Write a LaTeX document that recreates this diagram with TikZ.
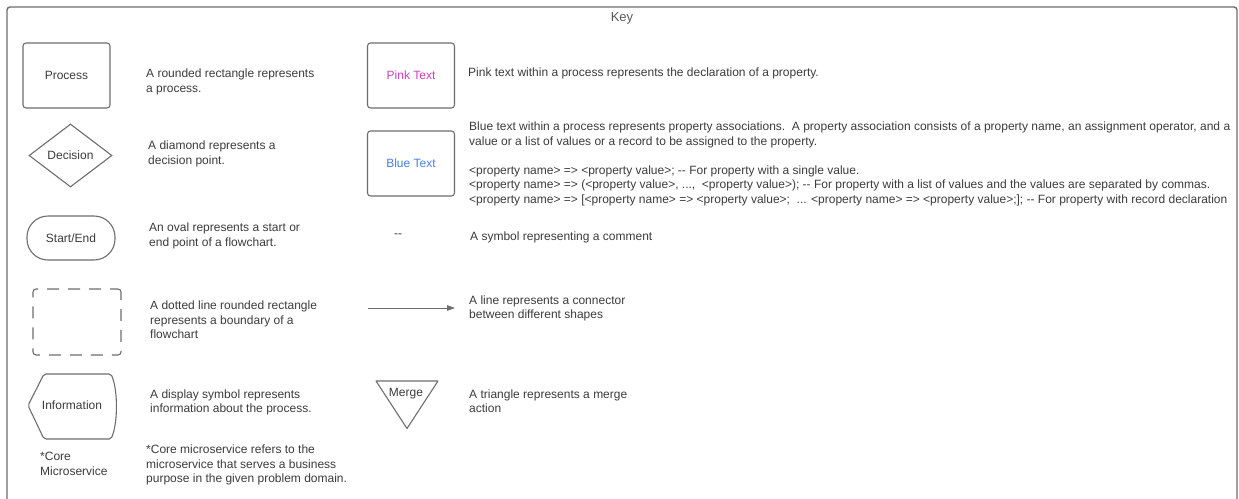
\documentclass[tikz,border=0pt]{standalone}
\usepackage{fontspec}
\setmainfont{Liberation Sans}
\usetikzlibrary{shapes.geometric,arrows.meta}
\definecolor{edge}{HTML}{6E6E6E}
\definecolor{ink}{HTML}{3C3C3C}
\definecolor{pinktxt}{HTML}{CF3FC4}
\definecolor{bluetxt}{HTML}{4C7FE3}
\newcommand{\dd}{{-}{-}}
\begin{document}
\begin{tikzpicture}[x=1pt,y=-1pt,
  every node/.style={font=\fontsize{12}{14.5}\selectfont, text=ink},
  shapebox/.style={draw=edge, line width=1.1pt},
  desc/.style={anchor=west, align=left, inner sep=0pt},
  label/.style={inner sep=0pt}]
\useasboundingbox (0,0) rectangle (1239,498);
\fill[white] (0,0) rectangle (1239,498);

% outer frame of the key
\draw[edge, line width=1.4pt, rounded corners=3pt]
  (7,510) -- (7,7) -- (1237,7) -- (1237,510);
\node[font=\fontsize{13}{15}\selectfont, text=ink!85] (title) at (622,18) {Key};

% ---- left column: shapes ----
\node[shapebox, rounded corners=3pt, minimum width=87pt, minimum height=65pt] (process) at (66.5,75.5) {Process};
\node[shapebox, diamond, minimum width=83pt, minimum height=63pt, inner sep=0pt] (decision) at (70.5,155.5) {Decision};
\node[shapebox, rounded corners=21pt, minimum width=88pt, minimum height=44pt] (startend) at (71,238) {Start/End};
\node[draw=edge, line width=1.1pt, rounded corners=3pt, dash pattern=on 12pt off 9pt, dash phase=4pt,
      minimum width=88pt, minimum height=66pt] (boundary) at (77,322) {};

% display shape
\node[label] (info) at (72,405.5) {Information};
\draw[shapebox, rounded corners=2pt]
  (44,374) -- (111,374) .. controls (118,390) and (118,423) .. (111,439)
  -- (44,439) -- (28,405.5) -- cycle;

\node[desc] (coretag) at (40,464) {*Core\\Microservice};

% ---- left column: descriptions ----
\node[desc] (dprocess) at (146,82) {A rounded rectangle represents\\a process.};
\node[desc] (ddecision) at (148,154) {A diamond represents a\\decision point.};
\node[desc] (dstartend) at (149,236) {An oval represents a start or\\end point of a flowchart.};
\node[desc] (dboundary) at (150,320) {A dotted line rounded rectangle\\represents a boundary of a\\flowchart};
\node[desc] (dinfo) at (150,402.5) {A display symbol represents\\information about the process.};
\node[desc] (dcore) at (146,465) {*Core microservice refers to the\\microservice that serves a business\\purpose in the given problem domain.};

% ---- right column: shapes ----
\node[shapebox, rounded corners=3pt, minimum width=87pt, minimum height=65pt, text=pinktxt] (pink) at (411,75.5) {Pink Text};
\node[shapebox, rounded corners=3pt, minimum width=87pt, minimum height=65pt, text=bluetxt] (blue) at (411,163.5) {Blue Text};
\node[label] (comment) at (398,236) {\dd};

\coordinate (lineA) at (368,308);
\coordinate (lineB) at (455,308);
\draw[edge, line width=1pt, -{Triangle[length=8pt,width=5.5pt]}] (lineA) -- (lineB);

\node[label] (merge) at (406,394) {Merge};
\draw[shapebox, line join=round] (376,381) -- (438,381) -- (407,428.5) -- cycle;

% ---- right column: descriptions ----
\node[desc] (dpink) at (468,73) {Pink text within a process represents the declaration of a property.};
\node[desc] (dblue) at (469,164) {Blue text within a process represents property associations.\ \ A property association consists of a property name, an assignment operator, and a\\
value or a list of values or a record to be assigned to the property.\\[14.5pt]
<property name> => <property value>; \dd{} For property with a single value.\\
<property name> => (<property value>, ...,\ \ <property value>); \dd{} For property with a list of values and the values are separated by commas.\\
<property name> => [<property name> => <property value>;\ \ ... <property name> => <property value>;]; \dd{} For property with record declaration};
\node[desc] (dcomment) at (470,237) {A symbol representing a comment};
\node[desc] (dline) at (469,308.5) {A line represents a connector\\between different shapes};
\node[desc] (dmerge) at (469,401) {A triangle represents a merge\\action};
\end{tikzpicture}
\end{document}
